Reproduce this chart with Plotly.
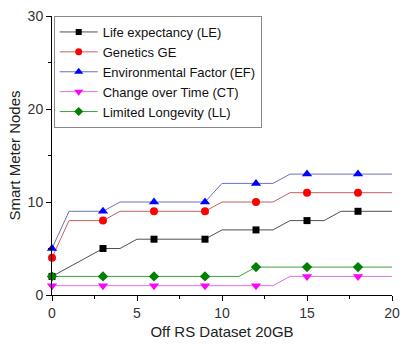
import plotly.graph_objects as go

# Marker data
x_marks = [0, 3, 6, 9, 12, 15, 18]
le_marks = [2, 5, 6, 6, 7, 8, 9]
ge_marks = [4, 8, 9, 9, 10, 11, 11]
ef_marks = [5, 9, 10, 10, 12, 13, 13]
ct_marks = [1, 1, 1, 1, 1, 2, 2]
ll_marks = [2, 2, 2, 2, 3, 3, 3]

# Line path vertices
le_line_x = [0, 3, 4, 5, 9, 10, 13, 14, 16, 17, 20]
le_line_y = [2, 5, 5, 6, 6, 7, 7, 8, 8, 9, 9]
ge_line_x = [0, 1, 3, 4, 9, 10, 13, 14, 20]
ge_line_y = [4, 8, 8, 9, 9, 10, 10, 11, 11]
ef_line_x = [0, 1, 3, 4, 9, 10, 13, 14, 20]
ef_line_y = [5, 9, 9, 10, 10, 12, 12, 13, 13]
ct_line_x = [0, 13, 14, 20]
ct_line_y = [1, 1, 2, 2]
ll_line_x = [0, 11, 12, 20]
ll_line_y = [2, 2, 3, 3]

names = ["Life expectancy (LE)", "Genetics GE", "Environmental Factor (EF)",
         "Change over Time (CT)", "Limited Longevity (LL)"]

series = [
    (names[0], le_line_x, le_line_y, le_marks, "#505050", "black", "square", 7),
    (names[1], ge_line_x, ge_line_y, ge_marks, "#c06060", "red", "circle", 8),
    (names[2], ef_line_x, ef_line_y, ef_marks, "#6a72b8", "blue", "triangle-up", 9),
    (names[3], ct_line_x, ct_line_y, ct_marks, "#e070e0", "magenta", "triangle-down", 9),
    (names[4], ll_line_x, ll_line_y, ll_marks, "#40a040", "green", "diamond", 8),
]

fig = go.Figure()
for name, lx, ly, my, lc, mc, sym, ms in series:
    fig.add_trace(go.Scatter(x=lx, y=ly, mode="lines", line=dict(color=lc, width=1),
                             showlegend=False, hoverinfo="skip", cliponaxis=False))
    fig.add_trace(go.Scatter(x=x_marks, y=my, mode="markers",
                             marker=dict(color=mc, symbol=sym, size=ms, line=dict(width=0)),
                             showlegend=False, cliponaxis=False))
    fig.add_trace(go.Scatter(x=[None], y=[None], mode="lines+markers", name=name,
                             line=dict(color=lc, width=1),
                             marker=dict(color=mc, symbol=sym, size=ms - 1, line=dict(width=0))))

axis_common = dict(showline=True, linecolor="black", linewidth=1, showgrid=False,
                   zeroline=False, ticks="outside", ticklen=5, tickcolor="black",
                   tickfont=dict(family="Arial", size=14, color="#333"),
                   title_font=dict(family="Arial", size=15, color="#222"))

fig.update_xaxes(range=[0, 20], tickvals=[0, 5, 10, 15, 20],
                 minor=dict(ticks="outside", ticklen=3, tickvals=[2.5, 7.5, 12.5, 17.5], tickcolor="black"),
                 title_text="Off RS Dataset 20GB", title_standoff=6, **axis_common)
fig.update_yaxes(range=[0, 30], tickvals=[0, 10, 20, 30],
                 minor=dict(ticks="outside", ticklen=3, tickvals=[5, 15, 25], tickcolor="black"),
                 title_text="Smart Meter Nodes", title_standoff=3, **axis_common)

fig.update_layout(
    width=408, height=345,
    margin=dict(l=52, r=8, t=14, b=50),
    paper_bgcolor="white", plot_bgcolor="white",
    font=dict(family="Arial", color="#222"),
    legend=dict(x=0.005, y=1, xanchor="left", yanchor="top",
                bordercolor="#888", borderwidth=1, bgcolor="white",
                font=dict(family="Arial", size=13, color="#111"),
                tracegroupgap=0, itemwidth=38),
)

fig.write_html("out.html")
